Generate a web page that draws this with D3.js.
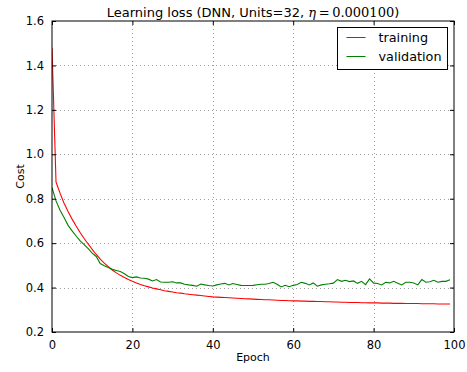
<!DOCTYPE html>
<html>
<head>
<meta charset="utf-8">
<script src="https://cdn.jsdelivr.net/npm/d3@7"></script>
<style>
  body { margin: 0; background: #fff; }
  svg { display: block; font-family: "DejaVu Sans", sans-serif; }
</style>
</head>
<body>
<div id="chart"></div>
<script>
// values
let epochs = d3.range(0, 100);

let trainLoss = [
  1.48, 0.875, 0.825, 0.780, 0.742, 0.708, 0.677, 0.648, 0.621, 0.596,
  0.572, 0.549, 0.528, 0.510, 0.494, 0.479, 0.466, 0.455, 0.445, 0.436,
  0.428, 0.421, 0.414, 0.408, 0.403, 0.398, 0.394, 0.390, 0.386, 0.383,
  0.380, 0.377, 0.375, 0.372, 0.370, 0.368, 0.366, 0.364, 0.362, 0.360,
  0.358, 0.357, 0.356, 0.355, 0.354, 0.353, 0.352, 0.351, 0.350, 0.349,
  0.348, 0.347, 0.346, 0.345, 0.345, 0.344, 0.343, 0.342, 0.342, 0.341,
  0.340, 0.340, 0.339, 0.339, 0.338, 0.338, 0.337, 0.337, 0.336, 0.336,
  0.335, 0.335, 0.334, 0.334, 0.333, 0.333, 0.333, 0.332, 0.332, 0.331,
  0.331, 0.331, 0.330, 0.330, 0.330, 0.329, 0.329, 0.329, 0.328, 0.328,
  0.328, 0.328, 0.327, 0.327, 0.327, 0.327, 0.326, 0.326, 0.326, 0.326
];

let validLoss = [
  0.850, 0.790, 0.748, 0.715, 0.680, 0.655, 0.632, 0.610, 0.593, 0.575,
  0.555, 0.540, 0.508, 0.498, 0.490, 0.482, 0.477, 0.472, 0.462, 0.450,
  0.445, 0.448, 0.443, 0.442, 0.438, 0.430, 0.436, 0.425, 0.424, 0.424,
  0.426, 0.421, 0.421, 0.415, 0.412, 0.410, 0.406, 0.416, 0.412, 0.409,
  0.407, 0.412, 0.416, 0.419, 0.412, 0.418, 0.414, 0.410, 0.409, 0.409,
  0.410, 0.413, 0.415, 0.415, 0.418, 0.424, 0.415, 0.403, 0.410, 0.404,
  0.410, 0.414, 0.424, 0.419, 0.412, 0.421, 0.406, 0.412, 0.415, 0.417,
  0.420, 0.436, 0.428, 0.433, 0.427, 0.430, 0.419, 0.428, 0.413, 0.439,
  0.420, 0.418, 0.412, 0.424, 0.421, 0.428, 0.420, 0.412, 0.424, 0.424,
  0.421, 0.412, 0.436, 0.424, 0.426, 0.433, 0.424, 0.428, 0.428, 0.435
];

let xTicks = [0, 20, 40, 60, 80, 100];
let yTicks = [0.2, 0.4, 0.6, 0.8, 1.0, 1.2, 1.4, 1.6];

let series = [
  {name: 'training', values: trainLoss, color: '#ff0000'},
  {name: 'validation', values: validLoss, color: '#008000'}
];

let svgWidth = 467, svgHeight = 372;
let margin = {top: 21, right: 13, bottom: 40, left: 52};
let w = svgWidth - margin.left - margin.right;
let h = svgHeight - margin.top - margin.bottom;
let tickFont = '11.5px';

let svg = d3.select('#chart').append('svg')
  .attr('width', svgWidth).attr('height', svgHeight);

let g = svg.append('g').attr('transform', 'translate(' + [margin.left, margin.top] + ')');

let xScale = d3.scaleLinear().domain([0, 100]).range([0, w]);
let yScale = d3.scaleLinear().domain([0.2, 1.6]).range([h, 0]);

// grid
g.selectAll('.vgrid').data(xTicks.slice(1, -1)).enter().append('line')
  .attr('x1', d => Math.round(xScale(d)) + 0.5).attr('x2', d => Math.round(xScale(d)) + 0.5)
  .attr('y1', 0).attr('y2', h)
  .attr('stroke', '#888').attr('stroke-width', 0.8).attr('stroke-dasharray', '1,3');
g.selectAll('.hgrid').data(yTicks.slice(1, -1)).enter().append('line')
  .attr('y1', d => Math.round(yScale(d)) + 0.5).attr('y2', d => Math.round(yScale(d)) + 0.5)
  .attr('x1', 0).attr('x2', w)
  .attr('stroke', '#888').attr('stroke-width', 0.8).attr('stroke-dasharray', '1,3');

// lines
let clip = svg.append('defs').append('clipPath').attr('id', 'plotclip');
clip.append('rect').attr('width', w).attr('height', h);

let line = d3.line().x((d, i) => xScale(epochs[i])).y(d => yScale(d));
g.append('g').attr('clip-path', 'url(#plotclip)')
  .selectAll('path').data(series).enter().append('path')
  .attr('d', d => line(d.values))
  .attr('fill', 'none')
  .attr('stroke', d => d.color)
  .attr('stroke-width', 1.1);

// axes, ticks inside like matplotlib classic
let xAxis = d3.axisBottom(xScale).tickValues(xTicks).tickSizeInner(-4).tickSizeOuter(0).tickPadding(9).tickFormat(d3.format('d'));
let xAxisTop = d3.axisTop(xScale).tickValues(xTicks).tickSizeInner(-4).tickSizeOuter(0).tickFormat('');
let yAxis = d3.axisLeft(yScale).tickValues(yTicks).tickSizeInner(-4).tickSizeOuter(0).tickPadding(8).tickFormat(d3.format('.1f'));
let yAxisRight = d3.axisRight(yScale).tickValues(yTicks).tickSizeInner(-4).tickSizeOuter(0).tickFormat('');

let axes = [
  g.append('g').attr('transform', 'translate(0,' + h + ')').call(xAxis),
  g.append('g').call(xAxisTop),
  g.append('g').call(yAxis),
  g.append('g').attr('transform', 'translate(' + w + ',0)').call(yAxisRight)
];
axes.forEach(a => {
  a.select('.domain').remove();
  a.selectAll('line').attr('stroke', '#000');
  a.selectAll('text').attr('font-size', tickFont).attr('font-family', '"DejaVu Sans", sans-serif').attr('fill', '#000');
});

// frame
g.append('rect').attr('x', 0).attr('y', 0).attr('width', w).attr('height', h)
  .attr('fill', 'none').attr('stroke', '#000').attr('stroke-width', 1);

// title
let title = svg.append('text')
  .attr('x', margin.left + w / 2).attr('y', 16.5)
  .attr('text-anchor', 'middle').attr('font-size', '13px');
title.append('tspan').text('Learning loss (DNN, Units=32, ');
title.append('tspan').attr('font-family', '"DejaVu Serif", serif').attr('font-style', 'italic').text('η');
title.append('tspan').attr('font-family', '"DejaVu Serif", serif').text('\u2009=\u20090.000100');
title.append('tspan').text(')');

// axis labels
svg.append('text')
  .attr('x', margin.left + w / 2).attr('y', 361)
  .attr('text-anchor', 'middle').attr('font-size', '11px')
  .text('Epoch');
svg.append('text')
  .attr('transform', 'translate(24,' + (margin.top + h / 2) + ') rotate(-90)')
  .attr('text-anchor', 'middle').attr('font-size', '11px')
  .text('Cost');

// legend
let legend = svg.append('g').attr('transform', 'translate(337.5,27.5)');
legend.append('rect').attr('width', 110).attr('height', 42)
  .attr('fill', '#fff').attr('stroke', '#000').attr('stroke-width', 1);
let items = legend.selectAll('.item').data(series).enter().append('g')
  .attr('transform', (d, i) => 'translate(0,' + (10 + i * 19) + ')');
items.append('line').attr('x1', 9).attr('x2', 28).attr('y1', 0).attr('y2', 0)
  .attr('stroke', d => d.color).attr('stroke-width', 1);
items.append('text').attr('x', 41).attr('y', 4.5).attr('font-size', '12.8px')
  .text(d => d.name);
</script>
</body>
</html>
